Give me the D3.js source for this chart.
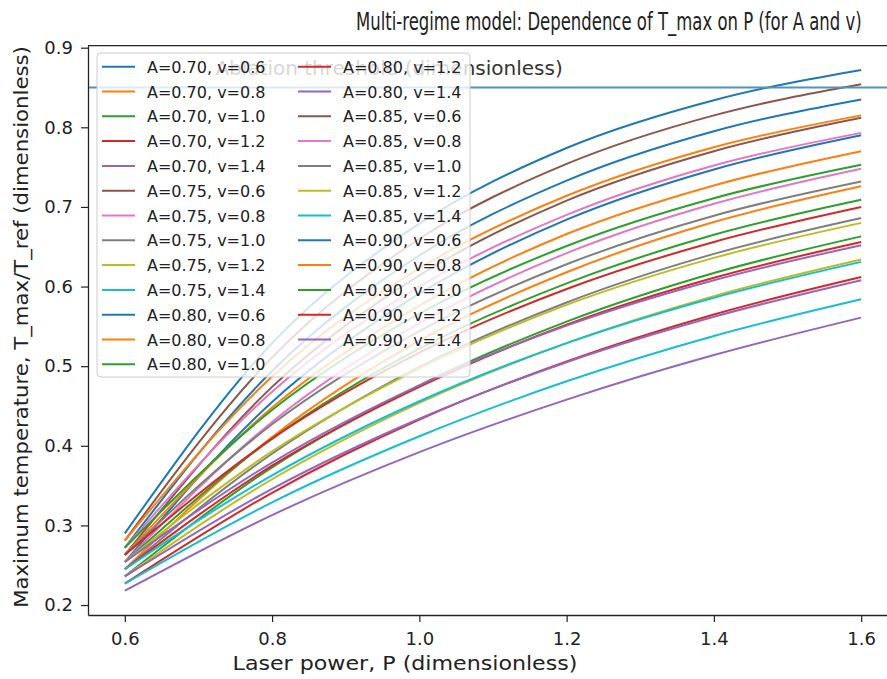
<!DOCTYPE html>
<html>
<head>
<meta charset="utf-8">
<script src="https://cdn.jsdelivr.net/npm/d3@7"></script>
<style>
  body { margin: 0; background: #fff; }
  svg { display: block; font-family: "DejaVu Sans", sans-serif; }
</style>
</head>
<body>
<div id="wrapper"></div>
<script>
// Multi-regime model: T_max vs P, one curve per (A, v) pair

const P_VALUES = [0.6, 0.8, 1.0, 1.2, 1.4, 1.6]
const A_VALUES = [0.70, 0.75, 0.80, 0.85, 0.90]
const V_VALUES = [0.6, 0.8, 1.0, 1.2, 1.4]

// rows = v values, columns = P values
const T_A070 = [
	[0.254, 0.455, 0.591, 0.684, 0.747, 0.790],
	[0.245, 0.411, 0.532, 0.618, 0.681, 0.726],
	[0.236, 0.373, 0.476, 0.556, 0.617, 0.663],
	[0.227, 0.341, 0.433, 0.506, 0.565, 0.612],
	[0.218, 0.313, 0.392, 0.458, 0.514, 0.561]
]
const T_A075 = [
	[0.263, 0.474, 0.614, 0.708, 0.770, 0.812],
	[0.254, 0.430, 0.554, 0.642, 0.704, 0.748],
	[0.245, 0.390, 0.499, 0.580, 0.641, 0.686],
	[0.236, 0.358, 0.454, 0.529, 0.588, 0.634],
	[0.227, 0.329, 0.412, 0.481, 0.538, 0.584]
]
const T_A080 = [
	[0.272, 0.494, 0.639, 0.733, 0.795, 0.835],
	[0.263, 0.448, 0.576, 0.666, 0.727, 0.770],
	[0.254, 0.409, 0.522, 0.604, 0.665, 0.709],
	[0.245, 0.375, 0.474, 0.552, 0.611, 0.656],
	[0.236, 0.346, 0.434, 0.505, 0.562, 0.608]
]
const T_A085 = [
	[0.281, 0.511, 0.660, 0.754, 0.815, 0.854],
	[0.272, 0.468, 0.600, 0.690, 0.752, 0.793],
	[0.263, 0.427, 0.544, 0.628, 0.689, 0.732],
	[0.254, 0.393, 0.497, 0.577, 0.636, 0.680],
	[0.245, 0.363, 0.456, 0.529, 0.586, 0.631]
]
const T_A090 = [
	[0.290, 0.529, 0.679, 0.774, 0.834, 0.872],
	[0.281, 0.487, 0.623, 0.714, 0.775, 0.815],
	[0.272, 0.445, 0.566, 0.651, 0.711, 0.753],
	[0.263, 0.409, 0.517, 0.597, 0.656, 0.700],
	[0.254, 0.379, 0.476, 0.551, 0.608, 0.652]
]
const T_BY_A = [T_A070, T_A075, T_A080, T_A085, T_A090]

const THRESHOLD = 0.85
const THRESHOLD_LABEL = "Ablation threshold (dimensionless)"

const X_TICKS = [0.6, 0.8, 1.0, 1.2, 1.4, 1.6]
const Y_TICKS = [0.2, 0.3, 0.4, 0.5, 0.6, 0.7, 0.8, 0.9]

const TITLE = "Multi-regime model: Dependence of T_max on P (for A and v)"
const X_LABEL = "Laser power, P (dimensionless)"
const Y_LABEL = "Maximum temperature, T_max/T_ref (dimensionless)"

// horizontal scale factor so a text node spans `target` px
function fitText(sel, target) {
	const natural = sel.node().getComputedTextLength()
	return target / natural
}

function drawChart() {
	const width = 887
	const height = 679

	// plot box (right edge falls outside the picture, like the reference)
	const dims = { left: 88, right: 898, top: 45.7, bottom: 615 }

	const svg = d3.select("#wrapper")
		.append("svg")
		.attr("width", width)
		.attr("height", height)
		.style("overflow", "hidden")

	const xScale = d3.scaleLinear()
		.domain([0.55, 1.65])
		.range([dims.left, dims.right])

	const yScale = d3.scaleLinear()
		.domain([0.1875, 0.9025])
		.range([dims.bottom, dims.top])

	// build series list in matplotlib plot order
	const series = []
	A_VALUES.forEach((a, i) => {
		V_VALUES.forEach((v, j) => {
			series.push({
				label: `A=${a.toFixed(2)}, v=${v.toFixed(1)}`,
				values: P_VALUES.map((p, k) => ({ p: p, t: T_BY_A[i][j][k] }))
			})
		})
	})
	const color = i => d3.schemeCategory10[i % 10]

	const lineGen = d3.line()
		.x(d => xScale(d.p))
		.y(d => yScale(d.t))
		.curve(d3.curveMonotoneX)

	const plot = svg.append("g")

	plot.selectAll("path.curve")
		.data(series)
		.join("path")
		.attr("class", "curve")
		.attr("d", d => lineGen(d.values))
		.attr("fill", "none")
		.attr("stroke", (d, i) => color(i))
		.attr("stroke-width", 2)

	// threshold line + label
	plot.append("line")
		.attr("x1", dims.left)
		.attr("x2", dims.right)
		.attr("y1", yScale(THRESHOLD))
		.attr("y2", yScale(THRESHOLD))
		.attr("stroke", "#4f95b8")
		.attr("stroke-width", 2)

	plot.append("text")
		.attr("x", xScale(0.723))
		.attr("y", yScale(0.866))
		.attr("font-size", 20)
		.attr("fill", "#333")
		.text(THRESHOLD_LABEL)

	// axes
	const xAxis = svg.append("g")
		.attr("transform", `translate(0, ${dims.bottom})`)
		.call(d3.axisBottom(xScale).tickValues(X_TICKS).tickFormat(d3.format(".1f"))
			.tickSize(7).tickPadding(10).tickSizeOuter(0))
	const yAxis = svg.append("g")
		.attr("transform", `translate(${dims.left}, 0)`)
		.call(d3.axisLeft(yScale).tickValues(Y_TICKS).tickFormat(d3.format(".1f"))
			.tickSize(7).tickPadding(8).tickSizeOuter(0))

	;[xAxis, yAxis].forEach(ax => {
		ax.select(".domain").attr("stroke", "#222").attr("stroke-width", 1.3)
		ax.selectAll(".tick line").attr("stroke", "#222").attr("stroke-width", 1.2)
		ax.selectAll(".tick text")
			.attr("font-family", "DejaVu Sans")
			.attr("font-size", 18)
			.attr("fill", "#222")
	})

	// top spine
	svg.append("line")
		.attr("x1", dims.left).attr("x2", dims.right)
		.attr("y1", dims.top).attr("y2", dims.top)
		.attr("stroke", "#222").attr("stroke-width", 1.3)

	// legend
	const legend = svg.append("g")
	legend.append("rect")
		.attr("x", 97).attr("y", 53)
		.attr("width", 373).attr("height", 324)
		.attr("rx", 4)
		.attr("fill", "white").attr("fill-opacity", 0.8)
		.attr("stroke", "#cccccc")

	const rowH = 24.8
	const perCol = 13
	const items = legend.selectAll("g.item")
		.data(series)
		.join("g")
		.attr("class", "item")
		.attr("transform", (d, i) => {
			const col = Math.floor(i / perCol)
			const row = i % perCol
			return `translate(${col === 0 ? 102 : 298}, ${66.7 + row * rowH})`
		})
	items.append("line")
		.attr("x1", 0).attr("x2", 33)
		.attr("stroke", (d, i) => color(i))
		.attr("stroke-width", 2)
	items.append("text")
		.attr("x", 45)
		.attr("y", 6)
		.attr("font-size", 16)
		.attr("fill", "#222")
		.text(d => d.label)

	// title and axis labels, squeezed to the widths seen in the reference
	const titleG = svg.append("g")
	const title = titleG.append("text")
		.attr("font-size", 24)
		.attr("fill", "#222")
		.text(TITLE)
	titleG.attr("transform", `translate(356, 30) scale(${fitText(title, 506)}, 1)`)

	const xLabG = svg.append("g")
	const xLab = xLabG.append("text")
		.attr("text-anchor", "middle")
		.attr("font-size", 20)
		.attr("fill", "#222")
		.text(X_LABEL)
	xLabG.attr("transform", `translate(405, 670) scale(${fitText(xLab, 345)}, 1)`)

	const yLabG = svg.append("g")
	const yLab = yLabG.append("text")
		.attr("text-anchor", "middle")
		.attr("font-size", 20)
		.attr("fill", "#222")
		.text(Y_LABEL)
	yLabG.attr("transform", `translate(28, 327) rotate(-90) scale(${fitText(yLab, 562)}, 1)`)
}

drawChart()
</script>
</body>
</html>
